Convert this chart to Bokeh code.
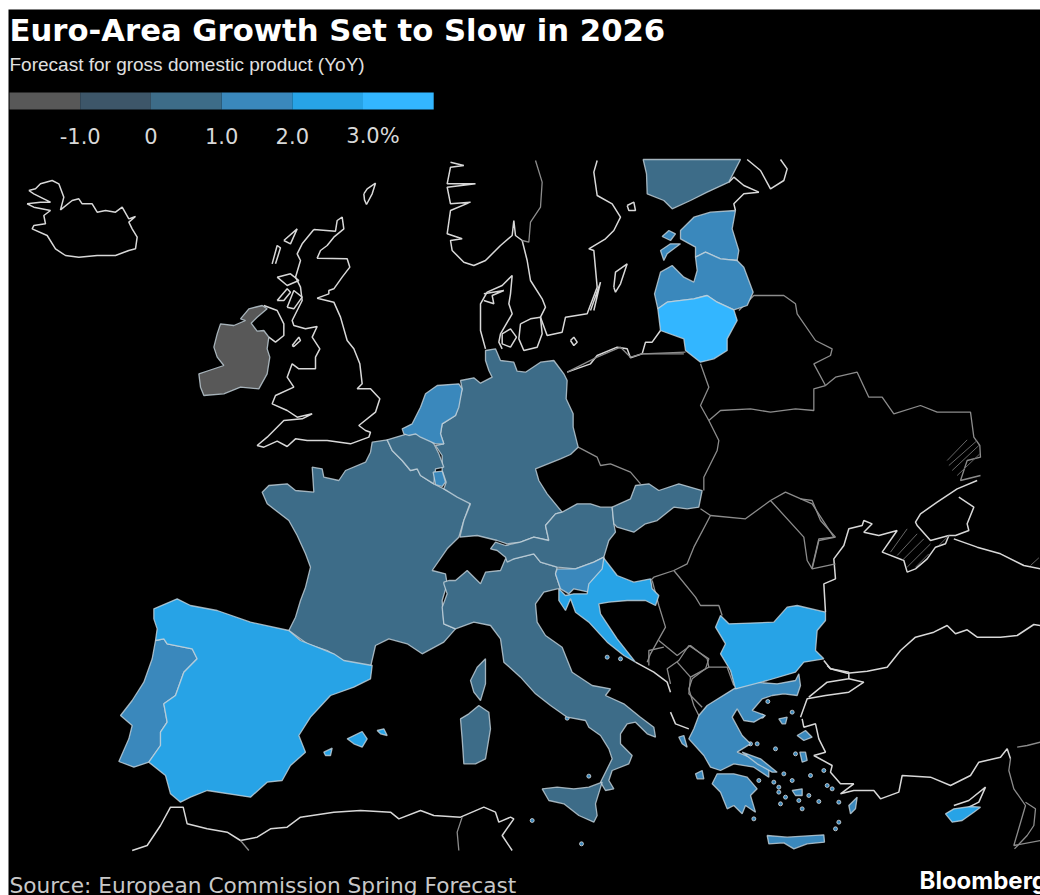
from bokeh.plotting import figure
from bokeh.models import Range1d
from bokeh.core.properties import value
from bokeh.embed import file_html
from bokeh.resources import INLINE

# ---- legend data
legend_labels = ["-1.0", "0", "1.0", "2.0", "3.0%"]
legend_breaks = [-2, -1, 0, 1, 2, 3, 4]
palette = ["#585858", "#3d5669", "#3d6c88", "#3a88bc", "#27a3e6", "#33b6ff"]

# map sheets: outlines are traced in local sheet units (3 units per screen px)
SHEETS = {"A": (0, 160), "B": (520, 150), "C": (0, 525), "D": (520, 525),
          "E": (400, 340), "F": (430, 150), "G": (250, 420), "H": (640, 480), "I": (800, 480)}

def sh(name, pts):
    ox, oy = SHEETS[name]
    return [(ox + a / 3, oy + b / 3) for a, b in pts]

# ---- forecast bins for euro-area members
ireland = sh("A", [(720,475),(745,445),(785,435),(800,445),(770,470),(752,488),(770,512),(790,510),(805,530),(800,565),(808,590),(800,640),(775,685),(720,680),(670,700),(610,705),(600,680),(595,640),(625,630),(670,615),(650,590),(640,560),(650,520),(660,490),(700,495),(735,480)])
netherlands = sh("E", [(35,250),(60,200),(75,160),(110,135),(175,130),(185,145),(175,200),(165,225),(125,250),(120,280),(130,310),(105,310),(60,290),(45,280),(25,285),(10,280),(5,265)])
belgium = sh("G", [(410,58),(470,40),(520,40),(550,70),(565,100),(580,140),(555,145),(550,190),(510,165),(500,145),(480,150),(455,120),(425,90)])
luxembourg = sh("E", [(98,395),(125,392),(135,425),(125,438),(105,432)])
germany = sh("E", [(255,30),(285,25),(300,60),(340,65),(350,92),(375,95),(420,65),(460,60),(490,100),(500,120),(497,175),(518,220),(518,260),(533,320),(510,342),(480,355),(405,385),(415,420),(440,460),(485,515),(465,520),(435,555),(445,600),(400,590),(360,605),(320,610),(290,600),(230,585),(178,590),(190,540),(210,490),(170,470),(130,445),(137,425),(125,390),(125,345),(105,315),(130,310),(120,280),(125,250),(165,225),(185,145),(180,120),(220,112),(240,128),(275,110),(265,90),(255,60)])
austria = sh("E", [(485,515),(530,490),(570,490),(600,500),(635,500),(640,550),(645,575),(625,600),(610,650),(580,665),(525,685),(470,680),(420,665),(400,640),(340,655),(320,665),(315,650),(290,630),(270,625),(285,605),(315,615),(360,605),(400,590),(445,600),(435,555),(465,520)])
slovakia = sh("E", [(635,500),(690,475),(705,435),(745,430),(775,450),(835,430),(905,450),(895,500),(860,505),(820,500),(770,540),(735,550),(700,575),(650,560),(640,550)])
slovenia = sh("E", [(465,700),(470,685),(525,685),(580,665),(610,650),(615,680),(575,720),(565,755),(520,745),(505,760),(480,745)])
croatia = sh("D", [(250,98),(290,150),(340,170),(390,160),(395,190),(415,210),(405,240),(375,225),(320,225),(265,230),(235,235),(240,265),(290,340),(345,410),(310,390),(260,350),(205,290),(165,260),(150,220),(135,255),(115,225),(115,190),(135,210),(160,205),(200,205),(205,175),(245,130)])
italy = (sh("E", [(130,725),(145,720),(165,720),(200,690),(240,730),(255,695),(300,690),(315,655),(340,655),(400,640),(420,665),(470,680),(465,700),(480,745),(470,745),(430,755),(405,790)])
         + sh("D", [(50,290),(75,330),(125,365),(155,440),(215,480),(270,490),(255,510),(310,535),(360,575),(400,605),(405,635),(380,625),(345,590),(320,595),(300,625),(300,655),(335,690),(325,715),(275,735),(265,765),(280,790),(255,795),(240,770),(275,700),(265,670),(240,630),(205,605),(195,585),(140,575),(90,540),(45,505),(0,455)])
         + sh("C", [(1510,410),(1500,340),(1470,300),(1420,290)])
         + sh("G", [(615,625),(580,610),(575,560),(590,520),(580,490)]))
france = sh("G", [(365,65),(410,58),(425,90),(455,120),(480,150),(500,145),(510,165),(550,190),(580,205),(660,245),(640,300),(625,350),(590,385),(545,450),(585,460),(590,490),(575,540),(580,610),(615,625),(580,665),(515,700),(470,670),(415,655),(375,675),(360,740),(300,735),(230,690),(170,670),(115,630),(135,590),(150,540),(165,500),(180,440),(165,400),(140,345),(115,300),(50,250),(35,215),(55,195),(110,190),(135,210),(190,215),(185,140),(215,145),(220,170),(265,180),(285,150),(345,125),(360,95)])
corsica = sh("C", [(1455,400),(1455,475),(1440,525),(1420,500),(1410,465),(1430,425)])
sardinia = sh("C", [(1435,540),(1465,560),(1470,610),(1455,700),(1425,715),(1390,715),(1385,640),(1380,580),(1405,565)])
sicily = sh("D", [(65,790),(110,785),(160,790),(205,785),(245,770),(225,835),(230,870),(220,890),(175,870),(130,835),(85,825)])
spain = sh("C", [(460,250),(530,220),(570,240),(650,255),(750,290),(865,315),(900,345),(1000,385),(1030,405),(1115,420),(1110,460),(1060,485),(990,510),(930,575),(895,630),(915,680),(870,720),(845,765),(800,770),(750,815),(620,795),(570,815),(540,830),(510,805),(495,750),(445,710),(480,660),(480,620),(500,590),(490,535),(525,510),(550,440),(590,400),(575,370),(500,355),(490,340),(465,345),(470,310),(460,280)])
mallorca = sh("C", [(1040,640),(1085,618),(1100,640),(1085,665),(1060,655)])
menorca = sh("C", [(1130,615),(1150,610),(1160,630),(1140,625)])
ibiza = sh("C", [(970,680),(995,668),(990,690),(975,690)])
portugal = sh("C", [(465,345),(490,340),(500,355),(575,370),(590,400),(550,440),(525,510),(490,535),(500,590),(480,620),(480,660),(445,710),(400,725),(355,708),(385,640),(395,600),(360,570),(395,525),(430,470),(455,400)])
greece = sh("D", [(640,490),(700,470),(770,475),(825,465),(835,445),(840,480),(830,510),(790,505),(755,510),(725,520),(695,555),(735,570),(700,590),(670,585),(650,550),(635,575),(665,630),(690,655),(650,680),(700,700),(745,730),(745,755),(700,725),(640,715),(600,735),(570,725),(550,690),(505,640),(520,610),(535,570),(560,540)])
peloponnese = sh("D", [(590,745),(640,745),(680,755),(710,790),(690,810),(705,860),(675,840),(665,865),(640,840),(620,850),(600,800),(575,775)])
euboea = sh("D", [(665,680),(720,700),(770,740),(755,740),(710,715)])
crete = sh("D", [(740,930),(800,935),(910,928),(912,950),(860,955),(820,970),(790,952),(745,955)])
lesbos = sh("D", [(830,630),(855,615),(875,635),(850,645)])
chios = sh("D", [(838,680),(855,680),(860,705),(845,710)])
rhodes = sh("D", [(985,840),(1010,815),(1005,850),(990,865)])
kefalonia = sh("D", [(525,745),(545,735),(550,760),(530,760)])
corfu = sh("D", [(475,635),(490,630),(500,665),(485,655)])
naxos = sh("D", [(815,795),(845,790),(845,810),(825,810)])
limnos = sh("D", [(775,580),(800,575),(795,595),(785,595)])
cyprus = sh("D", [(1275,865),(1300,850),(1350,843),(1380,845),(1360,860),(1325,885),(1295,890)])
finland = sh("B", [(368,27),(660,27),(625,95),(560,125),(510,150),(455,175),(430,150),(380,130),(378,70)])
estonia = sh("B", [(480,240),(520,200),(570,185),(645,180),(635,235),(655,300),(650,330),(600,325),(555,305),(525,320),(525,290),(480,265)])
saaremaa = sh("B", [(420,300),(450,280),(480,280),(440,310),(430,330)])
hiiumaa = sh("B", [(425,258),(445,240),(465,250),(450,270)])
latvia = sh("B", [(402,430),(420,365),(455,345),(490,380),(520,395),(530,360),(525,320),(555,305),(600,325),(650,330),(670,350),(698,425),(680,465),(640,478),(590,455),(560,435),(520,445),(440,455),(412,475)])
lithuania = sh("B", [(412,475),(440,455),(520,445),(560,435),(590,455),(640,478),(650,510),(620,565),(620,600),(580,625),(540,635),(495,600),(490,565),(420,540)])
bulgaria = sh("H", [(240,405),(265,430),(400,425),(440,380),(470,375),(555,395),(555,420),(530,450),(525,510),(550,535),(490,545),(465,575),(380,600),(285,625),(270,570),(240,520),(255,490),(225,440)])

member_shapes = [ireland, france, germany, belgium, italy, corsica, sardinia, sicily, austria, slovakia, finland,
                 netherlands, luxembourg, slovenia, portugal, greece, peloponnese, euboea, crete, lesbos, chios,
                 rhodes, kefalonia, corfu, naxos, limnos, estonia, saaremaa, hiiumaa, latvia,
                 spain, mallorca, menorca, ibiza, croatia, bulgaria, cyprus, lithuania]
member_bins = [0, 2, 2, 2, 2, 2, 2, 2, 2, 2, 2,
               3, 3, 3, 3, 3, 3, 3, 3, 3, 3,
               3, 3, 3, 3, 3, 3, 3, 3, 3,
               4, 4, 4, 4, 4, 4, 4, 5]

# ---- coastlines of non-members
coasts = [
    sh("A", [(85,90),(105,85),(120,70),(155,60),(175,70),(190,110),(180,148),(215,120),(235,115),(245,130),(275,130),(290,155),(315,150),(345,155),(365,140),(385,175),(405,168),(385,185),(395,205),(410,230),(405,265),(385,270),(345,285),(290,285),(235,290),(195,285),(165,265),(140,225),(95,205),(100,195),(135,190),(130,165),(150,150),(100,140),(80,130),(120,125),(150,125),(130,115),(100,100),(85,90)]),
    sh("A", [(1090,100),(1100,85),(1125,68),(1115,100),(1098,132),(1092,118),(1090,100)]),
    sh("A", [(940,207),(1005,212),(1010,180),(1025,170),(1030,205),(1000,230),(980,255),(960,270),(950,293),(1040,295),(1048,320),(1025,350),(1000,385),(985,390),(985,400),(950,413),(1000,425),(1020,470),(1040,540),(1060,565),(1078,610),(1085,670),(1070,685),(1110,685),(1138,715),(1125,755),(1075,795),(1095,810),(1110,815),(1105,830),(1050,850),(980,840),(920,840),(885,835),(860,858),(830,842),(790,860),(770,855),(800,830),(850,780),(905,775),(935,760),(890,770),(860,750),(815,730),(825,705),(880,680),(860,650),(875,610),(895,625),(945,625),(945,590),(958,565),(935,530),(950,498),(915,505),(880,495),(875,480),(905,420),(900,380),(885,350),(900,300),(890,280),(905,250),(940,207)]),
    sh("A", [(815,310),(830,255),(840,262),(825,310)]),
    sh("A", [(850,240),(890,205),(870,250),(850,240)]),
    sh("A", [(830,420),(860,385),(870,395),(850,420),(830,420)]),
    sh("A", [(860,440),(880,390),(905,410),(880,445),(860,440)]),
    sh("A", [(830,350),(870,340),(895,360),(860,375),(830,350)]),
    sh("A", [(875,555),(895,530),(900,540),(880,558),(875,555)]),
    sh("A", [(790,435),(830,450),(850,490),(850,525),(825,545),(805,530)]),
    sh("F", [(60,35),(100,45),(60,50),(50,100),(135,100),(50,110),(60,160),(120,155),(60,180),(50,250),(95,265),(60,270),(65,300),(100,335),(130,345),(165,330),(210,285),(245,255),(250,210),(255,255),(275,270),(290,330),(300,390),(335,445),(345,470),(330,500),(350,555),(395,545),(405,500),(470,490),(500,410),(490,300),(475,295),(525,265),(550,240),(570,200),(545,160),(500,135),(490,65),(500,30)]),
    sh("F", [(550,410),(555,365),(590,340),(570,400),(555,425),(550,410)]),
    sh("F", [(480,480),(510,395),(490,480)]),
    sh("F", [(590,165),(610,155),(615,180),(595,180),(590,165)]),
    sh("F", [(420,570),(430,560),(440,575),(430,585),(420,570)]),
    sh("F", [(165,595),(150,540),(150,460),(170,425),(215,405),(245,375),(240,430),(235,460),(245,490),(210,550),(205,575),(215,595)]),
    sh("F", [(160,430),(220,420),(185,435),(190,460),(160,450)]),
    sh("F", [(215,550),(240,535),(258,560),(240,590),(215,580),(215,550)]),
    sh("F", [(270,520),(300,505),(330,500),(335,550),(320,590),(280,600),(265,565),(270,520)]),
    sh("B", [(680,27),(720,60),(750,115),(790,90),(800,55),(780,27)]),
    sh("B", [(645,180),(640,160),(670,130),(715,125),(670,105),(640,80),(625,95)]),
    sh("B", [(420,540),(395,575),(375,575),(365,610),(330,622),(320,595),(290,590),(230,615),(210,640),(140,665)]),
    sh("I", [(75,395),(70,310),(105,295),(100,235),(130,195),(145,145),(185,135),(190,120),(215,130),(190,155),(235,165),(290,150),(245,215),(310,240),(320,275),(345,265),(380,235),(405,200),(435,190),(445,165),(390,180),(350,135),(345,125),(360,100),(410,65),(470,25),(530,0)]),
    sh("I", [(475,50),(520,80),(500,130),(505,150),(465,165),(445,165)]),
    sh("I", [(460,175),(530,200),(600,220),(670,255),(720,265)]),
    sh("I", [(70,540),(90,565),(140,578),(200,572),(260,560),(300,510),(345,470),(400,455),(440,435),(465,460),(500,448),(530,470),(600,470),(650,465),(700,432),(720,435)]),
    sh("D", [(985,460),(1030,470),(985,500),(915,510),(860,520),(840,575)]),
    sh("D", [(920,420),(930,430),(985,440),(985,460),(920,470),(865,515)]),
    sh("D", [(845,580),(850,605),(885,595),(895,640),(915,680),(880,690),(935,720),(930,740),(960,775),(1000,775),(960,805),(1000,795),(1060,795),(1080,820),(1135,800),(1145,750),(1230,755),(1290,780),(1350,750),(1375,710),(1440,695),(1460,670),(1470,700)]),
    sh("D", [(1300,840),(1345,825),(1395,785),(1375,830),(1345,845)]),
    sh("C", [(395,975),(440,960),(480,900),(510,845),(548,845),(560,895),(620,910),(680,920),(720,945),(770,935),(810,910),(860,905),(900,875),(1000,860),(1080,855),(1170,860),(1195,880),(1260,855),(1300,870),(1380,875),(1450,845),(1485,860),(1495,890),(1530,875),(1540,880),(1505,930),(1535,975)]),
    sh("D", [(345,410),(400,440),(440,470),(450,500)]),
    sh("D", [(450,560),(465,595),(505,610)]),
]
# ---- land borders of non-members
borders = [
    sh("F", [(315,30),(335,95),(330,170),(300,215),(295,275),(275,270)]),
    sh("B", [(365,610),(495,605)]),
    sh("B", [(540,640),(565,710),(540,765),(565,810),(595,870),(590,900),(550,980),(550,1020)]),
    sh("B", [(655,480),(700,435),(790,435),(825,460),(830,490),(885,570),(935,595),(930,615),(880,640),(915,705),(880,715),(880,780),(825,775),(750,785),(690,775),(600,780),(565,810)]),
    sh("B", [(915,705),(945,680),(1010,665),(1045,740),(1085,740),(1120,790),(1200,765),(1250,785),(1350,785),(1360,860),(1378,885),(1380,920),(1340,930),(1320,990),(1380,975)]),
    sh("E", [(533,320),(590,350),(600,375),(630,370),(690,395),(720,430)]),
    sh("E", [(500,95),(590,50),(660,20),(690,50),(725,40),(850,40)]),
    sh("H", [(180,85),(210,105),(160,200),(140,250),(100,270),(40,290),(30,300)]),
    sh("H", [(210,105),(315,115),(390,60),(435,35),(515,70),(580,170),(535,175),(515,260)]),
    sh("H", [(390,60),(490,170),(500,240),(515,265),(585,250)]),
    sh("H", [(100,270),(165,350),(180,375),(235,375),(245,405)]),
    sh("H", [(35,300),(55,375),(75,440),(30,520),(20,545)]),
    sh("H", [(55,480),(110,525),(150,495),(200,535),(205,560),(150,590),(145,640),(185,680)]),
    sh("H", [(205,560),(260,560),(280,615)]),
    sh("H", [(110,545),(150,590)]),
    sh("D", [(430,365),(385,375),(385,420)]),
    sh("D", [(450,475),(440,430),(475,405),(505,360),(565,400),(555,430),(515,460),(505,490),(520,540),(535,570)]),
    sh("D", [(1490,665),(1520,660),(1560,650)]),
    sh("D", [(1470,700),(1465,735),(1480,790),(1515,840),(1480,960),(1560,945)]),
    sh("D", [(1515,830),(1545,850),(1540,900),(1520,930),(1482,970)]),
    sh("C", [(720,945),(745,975)]),
    sh("C", [(1385,875),(1370,920),(1375,975)]),
    sh("I", [(0,55),(35,60),(60,120),(105,170),(55,180),(35,265)]),
]
# ---- disputed territories (hatched)
hatches = [
    sh("B", [(1280,930),(1340,868)]), sh("B", [(1285,945),(1370,870)]), sh("B", [(1295,960),(1375,885)]), sh("B", [(1310,975),(1378,910)]),
    sh("I", [(270,215),(320,145)]), sh("I", [(290,225),(350,160)]), sh("I", [(305,240),(370,175)]), sh("I", [(320,260),(390,190)]),
    sh("I", [(345,260),(385,220)]), sh("I", [(415,195),(445,165)]), sh("I", [(690,255),(715,232)]),
]
# ---- small islands
islets = sh("D", [(695,580),(725,572),(742,528),(765,670),(825,685),(690,655),(710,655),(790,745),(815,765),(760,770),(775,785),(775,800),(795,815),(780,835),(835,825),(845,850),(865,810),(895,828),(920,780),(935,790),(955,830),(955,890),(945,910),(700,880),(870,750),(715,765),(910,735),(815,560),(260,395),(300,400),(35,885),(183,955),(205,752),(140,578)])

p = figure(width=1040, height=895, x_range=Range1d(0, 1040), y_range=Range1d(895, 0),
           output_backend="svg", toolbar_location=None, min_border=0,
           background_fill_color="#ffffff", border_fill_color="#ffffff", outline_line_color=None)
p.axis.visible = False
p.grid.visible = False

# the black panel the map sits on
p.quad(left=[8], right=[1040], top=[9], bottom=[895], fill_color="#000000", line_color=None)

xs = lambda shapes: [[q[0] for q in s] for s in shapes]
ys = lambda shapes: [[q[1] for q in s] for s in shapes]

p.multi_line(xs(coasts), ys(coasts), line_color="#d8d8d8", line_width=1.5)
p.multi_line(xs(borders), ys(borders), line_color="#8c8c8c", line_width=1.3)
p.multi_line(xs(hatches), ys(hatches), line_color="#666666", line_width=1)
p.scatter([q[0] for q in islets], [q[1] for q in islets], size=4, fill_color="#3a88bc",
          line_color="#d8d8d8", line_width=0.8)
p.patches(xs(member_shapes), ys(member_shapes), fill_color=[palette[b] for b in member_bins],
          line_color="#c4d3dc", line_alpha=0.8, line_width=1.3)

# legend: each bin spans a fixed screen width
lx = lambda v: 9 + (v - legend_breaks[0]) * 70.7
p.quad(left=[lx(v) for v in legend_breaks[:-1]], right=[lx(v) for v in legend_breaks[1:]],
       top=[92] * 6, bottom=[109] * 6, fill_color=palette, line_color=None)
p.text([lx(v) for v in legend_breaks[1:5]] + [lx(3) + 10], [135] * 5, text=legend_labels,
       text_font=value("DejaVu Sans"), text_font_size="21px", text_color="#d8d8d8",
       text_align="center", text_baseline="middle")

p.text([9], [30], text=["Euro-Area Growth Set to Slow in 2026"], text_font=value("DejaVu Sans"),
       text_font_style="bold", text_font_size="30.7px", text_color="#ffffff", text_baseline="middle")
p.text([9], [64], text=["Forecast for gross domestic product (YoY)"], text_font=value("Liberation Sans"),
       text_font_size="19px", text_color="#e0e0e0", text_baseline="middle")
p.text([9], [885], text=["Source: European Commission Spring Forecast"], text_font=value("DejaVu Sans"),
       text_font_size="21.7px", text_color="#c8c8c8", text_baseline="middle")
p.text([919], [880], text=["Bloomberg"], text_font=value("Inter"), text_font_style="bold",
       text_font_size="24px", text_color="#ffffff", text_baseline="middle")

open("out.html", "w").write(file_html(p, INLINE))
